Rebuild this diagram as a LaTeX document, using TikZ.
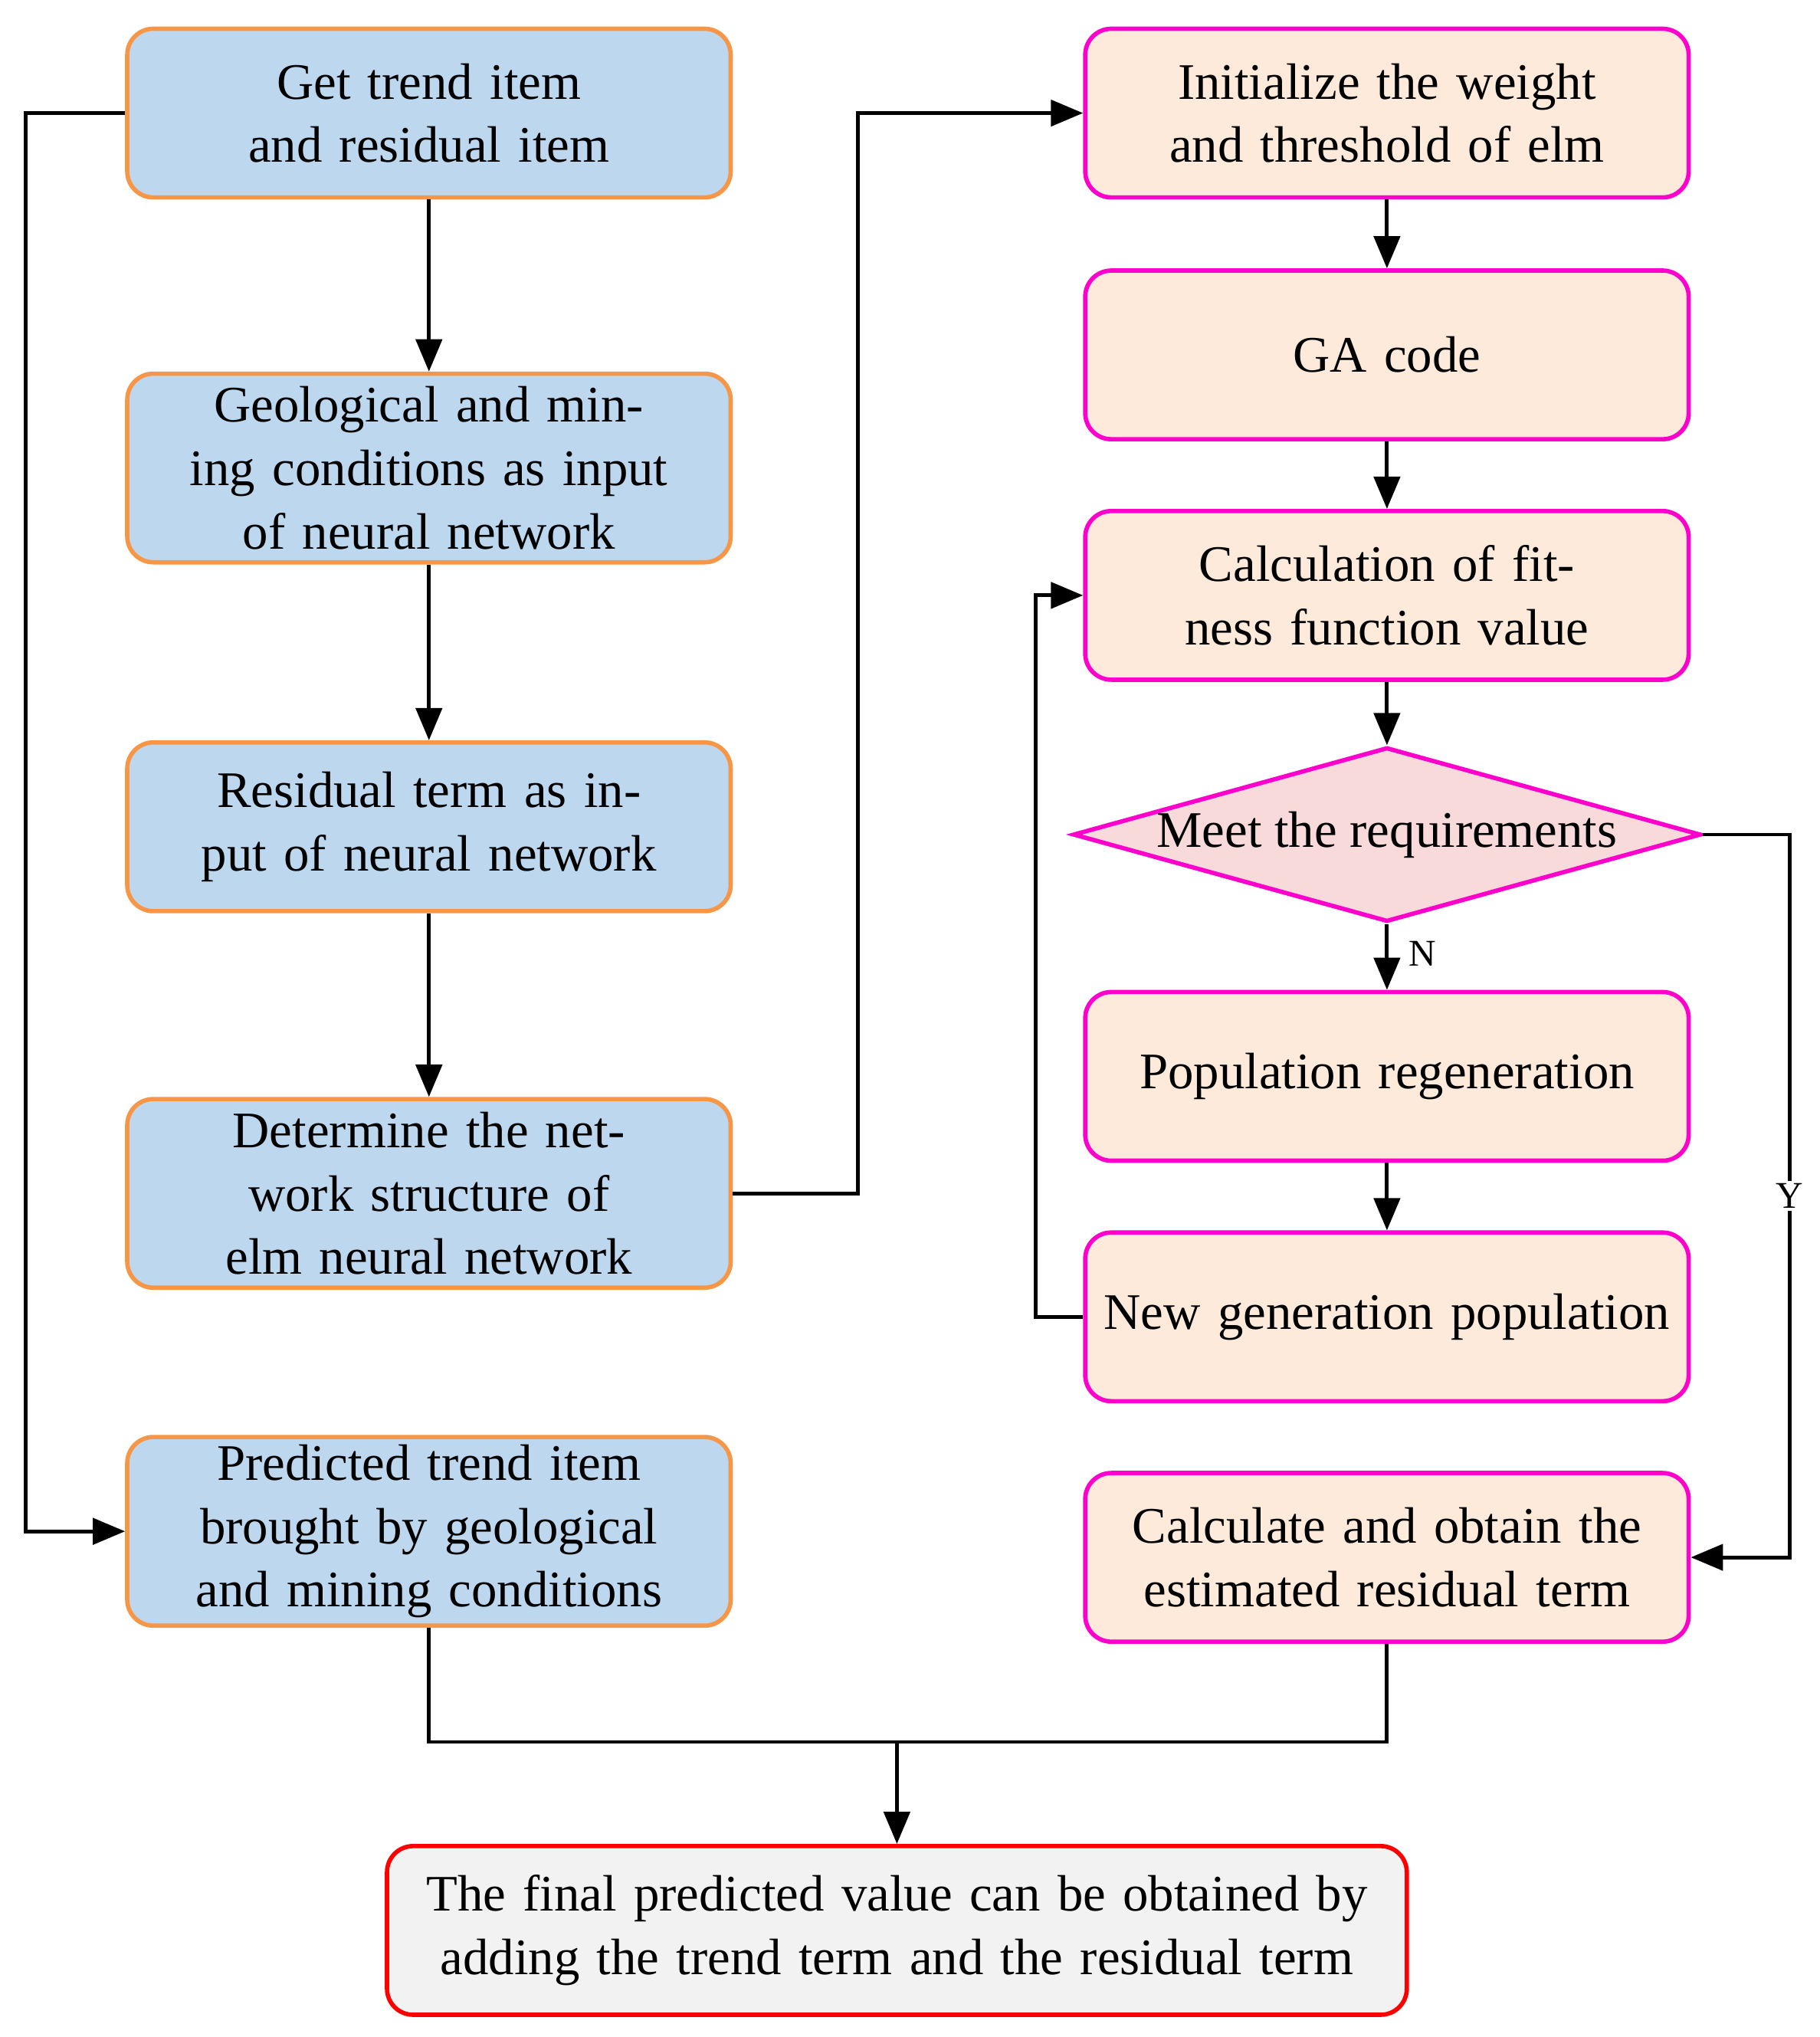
\documentclass[tikz,border=0pt]{standalone}
\usepackage{fontspec}
\setmainfont{Liberation Serif}
\usetikzlibrary{shapes.geometric,arrows.meta}
\definecolor{lb}{HTML}{BDD7EE}
\definecolor{ob}{HTML}{F79646}
\definecolor{pk}{HTML}{FF00CC}
\definecolor{pf}{HTML}{FDEADA}
\definecolor{df}{HTML}{F8DADA}
\begin{document}
\begin{tikzpicture}[x=0.01696cm,y=-0.01696cm,
  base/.style={rounded corners=0.34cm,line width=1.6pt,minimum width=7.87cm,text width=7.6cm,align=center,font=\fontsize{19}{23.5}\selectfont,inner sep=0pt},
  lbox/.style={base,draw=ob,fill=lb},
  rbox/.style={base,draw=pk,fill=pf},
  ln/.style={line width=1.4pt},
  ar/.style={ln,-{Triangle[length=0.42cm,width=0.34cm]}}]
\useasboundingbox (0,0) rectangle (1400,1567);
\node[lbox,minimum height=2.2cm] (b1) at (330,87) {Get trend item and residual item};
\node[lbox,minimum height=2.46cm] (b2) at (330,360) {Geological and mining conditions as input of neural network};
\node[lbox,minimum height=2.2cm] (b3) at (330,636) {Residual term as input of neural network};
\node[lbox,minimum height=2.46cm] (b4) at (330,918) {Determine the network structure of elm neural network};
\node[lbox,minimum height=2.46cm] (b5) at (330,1178) {Predicted trend item brought by geological and mining conditions};
\node[rbox,minimum height=2.2cm] (r1) at (1067,87) {Initialize the weight and threshold of elm};
\node[rbox,minimum height=2.2cm] (r2) at (1067,273) {GA code};
\node[rbox,minimum height=2.2cm] (r3) at (1067,458) {Calculation of fitness function value};
\node[diamond,draw=pk,fill=df,line width=1.6pt,minimum width=7.87cm,minimum height=2.2cm,aspect=3.6,inner sep=0pt,font=\fontsize{19}{23.5}\selectfont] (d) at (1067,642) {Meet the requirements};
\node[rbox,minimum height=2.2cm] (r4) at (1067,828) {Population regeneration};
\node[rbox,minimum height=2.2cm] (r5) at (1067,1013) {New generation population};
\node[rbox,minimum height=2.2cm] (r6) at (1067,1198) {Calculate and obtain the estimated residual term};
\node[base,draw=red,fill=black!5,minimum width=13.3cm,text width=13cm,minimum height=2.2cm] (f) at (690,1485) {The final predicted value can be obtained by adding the trend term and the residual term};
\coordinate (m) at (690,1340);
\draw[ar] (b1) -- (b2);
\draw[ar] (b2) -- (b3);
\draw[ar] (b3) -- (b4);
\draw[ar] (b1.west) -- (20,87) -- (20,1178) -- (b5.west);
\draw[ar] (b4.east) -- (660,918) -- (660,87) -- (r1.west);
\draw[ar] (r1) -- (r2);
\draw[ar] (r2) -- (r3);
\draw[ar] (r3) -- (d);
\draw[ar] (d) -- node[right,pos=0.45,font=\fontsize{14}{16}\selectfont,xshift=4pt]{N} (r4);
\draw[ar] (r4) -- (r5);
\draw[ar] (r5.west) -- (797,1013) -- (797,458) -- (r3.west);
\draw[ar] (d.east) -- (1377,642) -- node[fill=white,inner sep=1pt,font=\fontsize{14}{16}\selectfont]{Y} (1377,1198) -- (r6.east);
\draw[ln] (b5.south) -- (330,1340) -- (1067,1340) -- (r6.south);
\draw[ar] (m) -- (f);
\end{tikzpicture}
\end{document}
